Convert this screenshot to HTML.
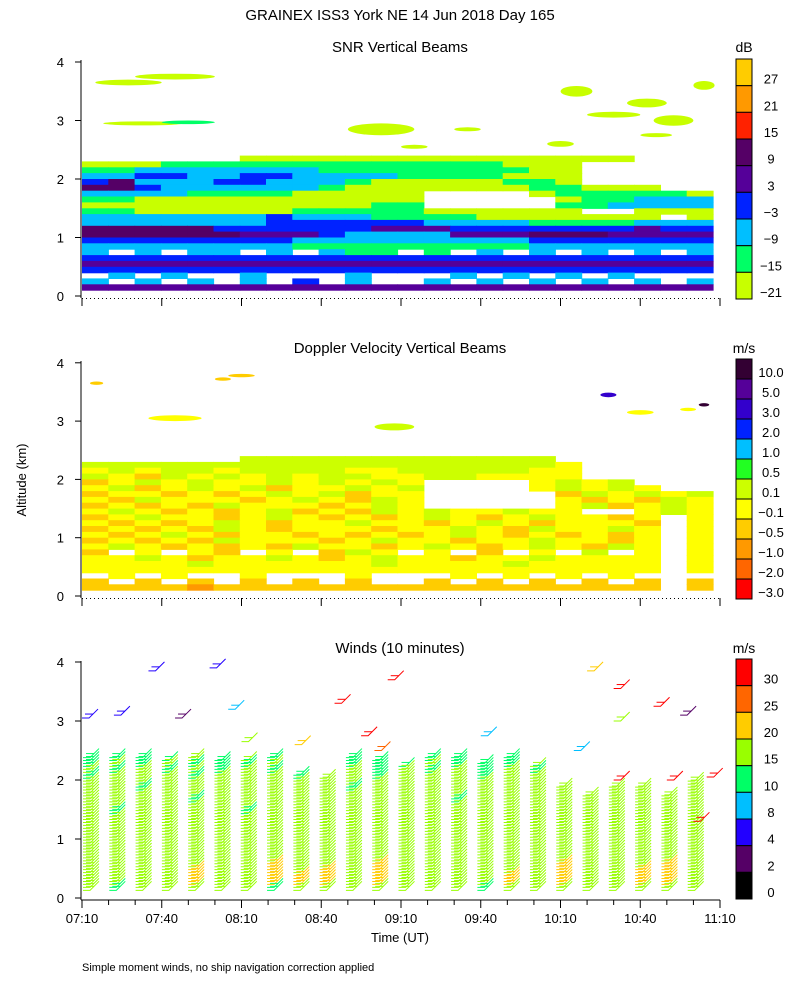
<!DOCTYPE html>
<html><head><meta charset="utf-8">
<style>
html,body{margin:0;padding:0;background:#fff;}
svg{display:block;font-family:"Liberation Sans",sans-serif;}
</style></head>
<body>
<svg id="fig" width="800" height="1000" viewBox="0 0 800 1000">
<rect x="0" y="0" width="800" height="1000" fill="#fff"/>
<text x="400" y="20" font-size="15" text-anchor="middle">GRAINEX ISS3 York NE  14 Jun 2018 Day 165</text>
<text x="400" y="52" font-size="15" text-anchor="middle">SNR Vertical Beams</text>
<text x="400" y="353" font-size="15" text-anchor="middle">Doppler Velocity Vertical Beams</text>
<text x="400" y="653" font-size="15" text-anchor="middle">Winds (10 minutes)</text>
<text x="26" y="480" font-size="13" text-anchor="middle" transform="rotate(-90 26 480)">Altitude (km)</text>
<text x="400" y="942" font-size="13" text-anchor="middle">Time (UT)</text>
<text x="82" y="971" font-size="11">Simple moment winds, no ship navigation correction applied</text>
<text x="744" y="52" font-size="14" text-anchor="middle">dB</text>
<text x="744" y="353" font-size="14" text-anchor="middle">m/s</text>
<text x="744" y="653" font-size="14" text-anchor="middle">m/s</text>
<g id="layers"></g>
</svg>
<script>
// ---------- data ----------
const xTickLabels = ["07:10","07:40","08:10","08:40","09:10","09:40","10:10","10:40","11:10"];
const yTickLabels = ["0","1","2","3","4"];
const snrColors = ["#c8ff00","#00ff66","#00bfff","#0022ff","#550099","#550066","#ff2200","#ff9900","#ffcc00"];
const snrLabels = ["-21","-15","-9","-3","3","9","15","21","27"];
const dopColors = ["#ff0000","#ff6600","#ff9900","#ffcc00","#ffff00","#ccff00","#22ff22","#00bfff","#0022ff","#3300cc","#550099","#330033"];
const dopLabels = ["-3.0","-2.0","-1.0","-0.5","-0.1","0.1","0.5","1.0","2.0","3.0","5.0","10.0"];
const windColors = ["#000000","#550066","#2200ff","#00bfff","#00ff66","#99ff00","#ffcc00","#ff6600","#ff0000"];
const windLabels = ["0","2","4","8","10","15","20","25","30"];
// SNR grid: rows from 2.3 km (top) down to 0.1 km, 24 ten-minute columns; '.' = no data
const snrRows = [
"......000000000000000...",
"0001111111111111000.....",
"1122222221111111100.....",
"2233223322221111000.....",
"3522233222100000110.....",
"5532222221000000011000..",
"2222111100000....0111110",
"1100000000000.....011222",
"0000000000011.....112222",
"1100000011111000000..000",
"2222222322211110000000.0",
"2222222333333222211112222",
"555553333334443333333433",
"555555444322224445554444",
"333333332222222223333333",
"222222221111111112222222",
"2.2.22.2.211.1.2.2.2.2.2",
"333333333333333333333333",
"444444444444444444444444",
"333333333333333333333333",
".2.2..2...2...2.2.2.2...",
"2.2.2.2.3.2..2.2.2.2.2.2",
"444444444444444444444444"];
// SNR upper patches: start minute, altitude km, duration min, depth km, category
const snrBlobT = [5,20,8,30,100,180,190,205,215,230,175,140,120,210];
const snrBlobA = [3.65,3.75,2.95,2.97,2.85,3.5,3.1,3.3,3.0,3.6,2.6,2.85,2.55,2.75];
const snrBlobW = [25,30,30,20,25,12,20,15,15,8,10,10,10,12];
const snrBlobH = [0.1,0.1,0.07,0.06,0.2,0.18,0.1,0.15,0.18,0.15,0.1,0.07,0.07,0.07];
const snrBlobC = [0,0,0,1,0,0,0,0,0,0,0,0,0,0];
// Doppler grid: same layout
const dopRows = [
"......555555555555......",
"5555555555555555554.....",
"4545545555445555544.....",
"5435454545544554444.....",
"3454544545454....4545...",
"4534545344545....45454..",
"3443434545344.....354545",
"4354443454354.....434354",
"3434354443454.....453454",
"4543434534354544544..454",
"3454434543434543454434.4",
"4343454344544345434443.4",
"3434354344434454354454.4",
"4345434434343454343434.4",
"3434354443454434454434.4",
"4543434354434543454354.4",
"3.4.43.4.354.4.3.4.5.4.4",
"4454344543454434454444.4",
"4444544444454444544444.4",
"4444444444444444444444.4",
".4.4..4...4...4.4.4.4...",
"3.3.3.3.3.3..3.3.3.3.3.3",
"3333233333333333333333.3"];
const dopBlobT = [3,25,50,55,110,205,195,225,232];
const dopBlobA = [3.65,3.05,3.72,3.78,2.9,3.15,3.45,3.2,3.28];
const dopBlobW = [5,20,6,10,15,10,6,6,4];
const dopBlobH = [0.06,0.1,0.06,0.06,0.12,0.08,0.08,0.06,0.06];
const dopBlobC = [3,4,3,3,5,4,9,4,11];
// Winds: top of barbs per column (km) and colour category grid (rows 2.3 -> 0.1 km)
const windTop = [2.45,2.4,2.4,2.35,2.4,2.35,2.35,2.4,2.1,2.05,2.4,2.35,2.25,2.4,2.4,2.3,2.4,2.25,1.9,1.75,1.9,1.9,1.75,2.0];
const windRows = [
"444454544544544444444444",
"454544454544454445454545",
"545454545454545454545454",
"455545554554555455545555",
"555555555555555555555555",
"554555555545555555555555",
"555555555555555555555555",
"555545555555554555555555",
"555555555555555555555555",
"545555455555555555555555",
"555555555555555555555555",
"555555555555555555555555",
"555555555555555555555555",
"555555555555555555555555",
"555555555555555555555555",
"555555555555555555555555",
"555555555555555555555555",
"555555555555555555555555",
"555555565556555555655565",
"555565565656555555655665",
"555565566656555565655665",
"555565566656555565655665",
"545555545555555455555555"];
// Sparse upper-level barbs: minute, altitude, category
const xBarbT = [0,12,25,35,48,55,60,80,95,105,110,115,150,185,190,200,200,215,225,235,220,200,230];
const xBarbA = [3.05,3.1,3.85,3.05,3.9,3.2,2.65,2.6,3.3,2.75,2.5,3.7,2.75,2.5,3.85,3.55,3.0,3.25,3.1,2.05,2.0,2.0,1.3];
const xBarbC = [2,2,2,1,2,3,5,6,8,8,7,8,3,3,6,8,5,8,1,8,8,8,8];

// ---------- scales ----------
const X0 = 82, X1 = 720;
function xScale(min){ return X0 + min*(X1-X0)/240; }
const panels = [{y0:296,k:58.5,top:60},{y0:596,k:58.3,top:361},{y0:898,k:59,top:661}];
function yScale(p,a){ return panels[p].y0 - a*panels[p].k; }
const NS = "http://www.w3.org/2000/svg";
const root = document.getElementById("layers");
function mk(tag, parent){ const e = document.createElementNS(NS, tag); parent.appendChild(e); return e; }

// ---------- gridded fields ----------
function drawGrid(p, rows, colors, name){
  const g = mk("g", root);
  
  
  const n = rows.length;
  const xEnd = 713;
  const cw = (xEnd - X0)/24;
  rows.forEach((row, i) => {
    const a = 0.1 + (n-1-i)*0.1;
    const yt = yScale(p, a+0.1), yb = yScale(p, a);
    for (let c = 0; c < Math.min(24,row.length); c++) {
      const ch = row[c];
      if (ch === ".") continue;
      const idx = parseInt(ch, 36);
      const r = mk("rect", g);
      
      
      r.setAttribute("x", (X0 + c*cw).toFixed(1));
      r.setAttribute("y", yt.toFixed(1));
      r.setAttribute("width", (cw+0.6).toFixed(1));
      r.setAttribute("height", (yb-yt+0.6).toFixed(1));
      r.setAttribute("fill", colors[idx]);
    }
  });
}
function drawBlobs(p, T, A, W, H, C, colors, name){
  const g = mk("g", root);
  
  
  for (let i = 0; i < T.length; i++) {
    const e = mk("ellipse", g);
    
    
    const x1 = xScale(T[i]), x2 = xScale(T[i]+W[i]);
    e.setAttribute("cx", ((x1+x2)/2).toFixed(1));
    e.setAttribute("cy", yScale(p, A[i]).toFixed(1));
    e.setAttribute("rx", ((x2-x1)/2).toFixed(1));
    e.setAttribute("ry", (H[i]*panels[p].k/2).toFixed(1));
    e.setAttribute("fill", colors[C[i]]);
  }
}
drawGrid(0, snrRows, snrColors, "snr-field");
drawBlobs(0, snrBlobT, snrBlobA, snrBlobW, snrBlobH, snrBlobC, snrColors, "snr-upper");
drawGrid(1, dopRows, dopColors, "doppler-field");
drawBlobs(1, dopBlobT, dopBlobA, dopBlobW, dopBlobH, dopBlobC, dopColors, "doppler-upper");

// ---------- wind barbs ----------
function barb(g, x, y, color){
  const pl = mk("polyline", g);
  
  
  pl.setAttribute("points", `${x},${y} ${x+7},${y} ${x+16},${y-9}`);
  pl.setAttribute("fill", "none");
  pl.setAttribute("stroke", color);
  pl.setAttribute("stroke-width", "1");
  const f = mk("line", g);
  
  
  f.setAttribute("x1", x+3); f.setAttribute("y1", y-4);
  f.setAttribute("x2", x+11); f.setAttribute("y2", y-4);
  f.setAttribute("stroke", color);
}
const wg = mk("g", root);


const cwW = (713 - X0)/24;
const nW = windRows.length;
windRows.forEach((row, i) => {
  const a = 0.1 + (nW-1-i)*0.1;
  for (let c = 0; c < row.length; c++) {
    for (let s = 0; s < 2; s++) {
      const alt = a + s*0.05 + 0.03;
      if (alt > windTop[c]) continue;
      const bx = X0 + c*cwW + 1;
      barb(wg, bx, yScale(2, alt), windColors[parseInt(row[c],36)]);
    }
  }
});
for (let i = 0; i < xBarbT.length; i++) {
  barb(wg, xScale(xBarbT[i]), yScale(2, xBarbA[i]), windColors[xBarbC[i]]);
}

// ---------- axes ----------
panels.forEach((P, p) => {
  const g = mk("g", root);
  
  
  const sp = mk("line", g);
  
  
  sp.setAttribute("x1", 81); sp.setAttribute("x2", 81);
  sp.setAttribute("y1", P.top); sp.setAttribute("y2", P.y0+2);
  sp.setAttribute("stroke", "#000");
  yTickLabels.forEach((lab, j) => {
    const y = yScale(p, +lab);
    const t = mk("line", g);
    
    
    t.setAttribute("x1", 75); t.setAttribute("x2", 81);
    t.setAttribute("y1", y); t.setAttribute("y2", y);
    t.setAttribute("stroke", "#000");
    const tx = mk("text", g);
    
    
    tx.setAttribute("x", 64); tx.setAttribute("y", y+5);
    tx.setAttribute("font-size", "13"); tx.setAttribute("text-anchor", "end");
    tx.textContent = lab;
  });
  const by = P.y0 + 2;
  if (p < 2) {
    const d = mk("line", g);
    
    
    d.setAttribute("x1", 82); d.setAttribute("x2", 720);
    d.setAttribute("y1", by+0.5); d.setAttribute("y2", by+0.5);
    d.setAttribute("stroke", "#000"); d.setAttribute("stroke-dasharray", "1 3");
  } else {
    const d = mk("line", g);
    
    
    d.setAttribute("x1", 81); d.setAttribute("x2", 720);
    d.setAttribute("y1", by); d.setAttribute("y2", by);
    d.setAttribute("stroke", "#000");
  }
  for (let m = 0; m <= 240; m += 10) {
    const major = m % 30 === 0;
    if (p < 2 && !major) continue;
    const t = mk("line", g);
    
    
    t.setAttribute("x1", xScale(m)); t.setAttribute("x2", xScale(m));
    t.setAttribute("y1", by); t.setAttribute("y2", by + (major ? 8 : 5));
    t.setAttribute("stroke", "#000");
  }
});
xTickLabels.forEach((lab, j) => {
  const tx = mk("text", root);
  
  
  tx.setAttribute("x", xScale(j*30)); tx.setAttribute("y", 923);
  tx.setAttribute("font-size", "13"); tx.setAttribute("text-anchor", "middle");
  tx.textContent = lab;
});

// ---------- colorbars ----------
function colorbar(top, h, colors, labels, name){
  const g = mk("g", root);
  
  
  const n = colors.length, bh = h/n;
  for (let i = 0; i < n; i++) {
    const idx = n-1-i;
    const r = mk("rect", g);
    
    
    r.setAttribute("x", 736); r.setAttribute("y", (top + i*bh).toFixed(1));
    r.setAttribute("width", 16); r.setAttribute("height", bh.toFixed(1));
    r.setAttribute("fill", colors[idx]); r.setAttribute("stroke", "#000");
    const t = mk("text", g);
    
    
    t.setAttribute("x", 771); t.setAttribute("y", (top + (i+1)*bh - 2).toFixed(1));
    t.setAttribute("font-size", "13"); t.setAttribute("text-anchor", "middle");
    t.textContent = labels[idx].replace("-", "\u2212");
  }
}
colorbar(59, 240, snrColors, snrLabels, "snr-colorbar");
colorbar(359, 240, dopColors, dopLabels, "doppler-colorbar");
colorbar(659, 240, windColors, windLabels, "winds-colorbar");
</script>
</body></html>
